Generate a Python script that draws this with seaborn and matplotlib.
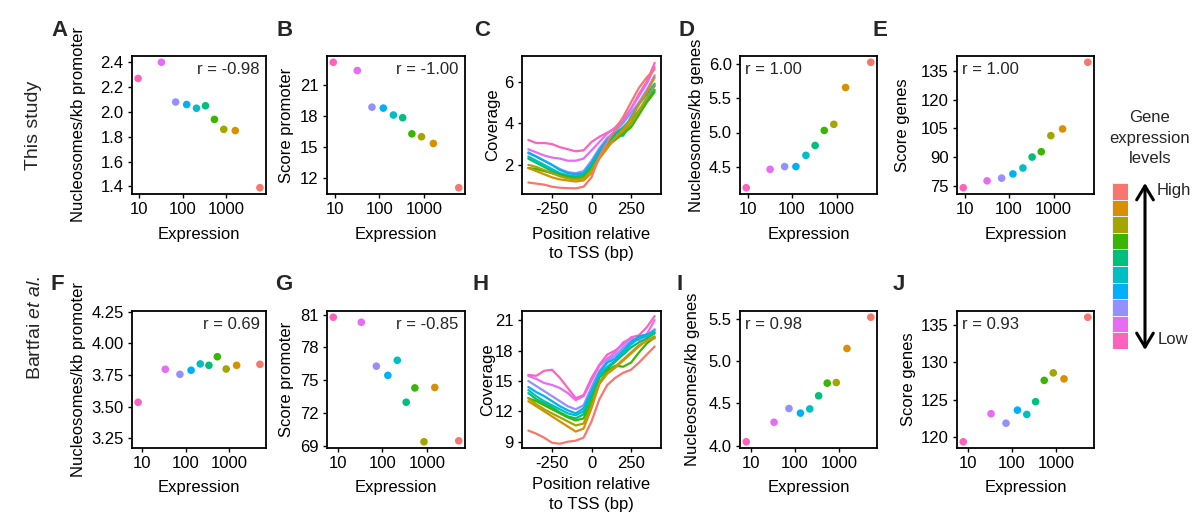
import numpy as np
import pandas as pd
import matplotlib.pyplot as plt
from matplotlib.colors import ListedColormap
import seaborn as sns

sns.set_style('white')
plt.rcParams['font.family'] = ['Liberation Sans', 'DejaVu Sans']
plt.rcParams['axes.unicode_minus'] = False
plt.rcParams['mathtext.fontset'] = 'custom'
plt.rcParams['mathtext.rm'] = 'Liberation Sans'
plt.rcParams['mathtext.it'] = 'Liberation Sans:italic'

# expression bins, low -> high
levels = ['L1', 'L2', 'L3', 'L4', 'L5', 'L6', 'L7', 'L8', 'L9', 'L10']
colors = ['#FF62BC', '#E76BF3', '#9590FF', '#00B0F6', '#00BFC4',
          '#00BF7D', '#39B600', '#A3A500', '#D89000', '#F8766D']

expr_this = [9.3, 32, 68, 122, 205, 330, 530, 870, 1600, 5900]
expr_bartfai = [8.0, 34, 74, 134, 218, 345, 540, 865, 1510, 5200]

nuc_prom_this = [2.27, 2.40, 2.08, 2.06, 2.03, 2.05, 1.94, 1.86, 1.85, 1.39]
score_prom_this = [23.2, 22.4, 18.86, 18.77, 18.1, 17.84, 16.28, 16.0, 15.35, 11.07]
nuc_genes_this = [4.19, 4.46, 4.5, 4.5, 4.665, 4.81, 5.03, 5.12, 5.66, 6.03]
score_genes_this = [74.0, 77.6, 79.0, 81.2, 84.3, 90.0, 92.8, 101.2, 104.7, 139.5]

nuc_prom_bartfai = [3.534, 3.795, 3.755, 3.787, 3.837, 3.826, 3.894, 3.797, 3.826, 3.834]
score_prom_bartfai = [80.76, 80.3, 76.28, 75.44, 76.82, 72.98, 74.29, 69.36, 74.33, 69.45]
nuc_genes_bartfai = [4.046, 4.277, 4.44, 4.385, 4.435, 4.59, 4.74, 4.747, 5.15, 5.52]
score_genes_bartfai = [119.43, 123.16, 121.9, 123.64, 123.07, 124.76, 127.6, 128.6, 127.8, 136.0]

positions = [-400, -350, -300, -250, -200, -150, -100, -50, 0, 50, 100, 150, 200, 250, 300, 350, 400]

cov_this = [
    [3.2, 3.05, 3.05, 3.0, 2.85, 2.75, 2.65, 2.7, 3.1, 3.35, 3.55, 3.75, 4.1, 4.7, 5.4, 6.0, 6.9],
    [2.75, 2.6, 2.45, 2.35, 2.3, 2.2, 2.2, 2.3, 2.7, 3.1, 3.5, 3.8, 4.2, 4.7, 5.3, 5.9, 6.7],
    [2.55, 2.4, 2.2, 2.0, 1.8, 1.65, 1.6, 1.7, 2.2, 2.8, 3.3, 3.6, 4.0, 4.5, 5.0, 5.6, 6.3],
    [2.6, 2.4, 2.2, 2.0, 1.75, 1.6, 1.55, 1.6, 2.1, 2.7, 3.2, 3.5, 3.6, 4.3, 4.9, 5.4, 5.9],
    [2.4, 2.2, 2.0, 1.8, 1.6, 1.5, 1.45, 1.55, 1.95, 2.6, 3.1, 3.4, 3.4, 4.0, 4.6, 5.2, 5.8],
    [2.3, 2.1, 1.9, 1.7, 1.55, 1.45, 1.4, 1.5, 1.9, 2.5, 3.0, 3.5, 3.8, 4.2, 4.6, 5.1, 5.6],
    [1.85, 1.8, 1.7, 1.6, 1.5, 1.4, 1.35, 1.4, 1.8, 2.4, 2.9, 3.2, 3.5, 3.8, 4.4, 5.0, 5.5],
    [2.0, 1.9, 1.75, 1.6, 1.45, 1.35, 1.3, 1.35, 1.75, 2.4, 2.9, 3.3, 3.6, 4.0, 4.6, 5.2, 5.8],
    [1.85, 1.7, 1.55, 1.4, 1.3, 1.25, 1.2, 1.25, 1.6, 2.3, 2.8, 3.3, 3.7, 4.2, 4.9, 5.5, 6.2],
    [1.15, 1.1, 1.05, 0.95, 0.9, 0.88, 0.87, 0.95, 1.4, 2.4, 3.1, 3.7, 4.3, 5.0, 5.7, 6.2, 6.6],
]

cov_bartfai = [
    [15.6, 15.5, 16.0, 16.1, 15.3, 14.3, 13.3, 13.6, 15.3, 16.6, 17.6, 18.0, 18.6, 19.3, 19.5, 20.3, 21.4],
    [15.5, 15.2, 14.8, 14.6, 14.3, 13.8, 13.1, 13.5, 15.0, 16.5, 17.2, 17.8, 18.8, 19.2, 19.0, 19.6, 21.0],
    [15.0, 14.5, 14.0, 13.5, 13.0, 12.5, 12.2, 12.6, 14.4, 16.0, 17.0, 17.5, 18.3, 19.0, 19.3, 19.5, 20.1],
    [14.4, 13.9, 13.5, 13.0, 12.5, 12.1, 11.8, 12.3, 14.0, 15.8, 16.8, 17.2, 18.0, 18.8, 19.4, 19.6, 19.8],
    [14.1, 13.5, 13.0, 12.6, 12.2, 11.8, 11.6, 12.0, 13.7, 15.6, 16.4, 17.0, 17.8, 18.6, 19.2, 19.4, 20.0],
    [13.8, 13.2, 12.8, 12.4, 11.9, 11.5, 11.3, 11.7, 13.4, 15.3, 16.2, 16.9, 17.6, 18.3, 18.8, 19.2, 19.7],
    [13.3, 13.0, 12.6, 12.2, 11.8, 11.4, 11.1, 11.3, 12.9, 14.8, 16.0, 16.5, 16.4, 16.8, 17.8, 18.7, 19.3],
    [13.3, 12.7, 12.2, 11.8, 11.4, 11.0, 10.6, 10.8, 12.6, 14.8, 15.8, 16.4, 17.1, 17.8, 18.5, 19.0, 19.4],
    [13.0, 12.5, 12.0, 11.5, 11.0, 10.5, 10.0, 10.3, 12.3, 14.7, 15.7, 16.3, 17.0, 17.7, 18.4, 19.0, 19.2],
    [10.1, 9.8, 9.4, 8.9, 8.8, 9.0, 9.1, 9.4, 11.0, 13.2, 14.6, 15.3, 15.8, 16.1, 16.8, 17.6, 18.4],
]

palette = dict(zip(levels, colors))
W, H = 1200, 521
fig = plt.figure(figsize=(12, 5.21), dpi=100)

col_left = [132, 327, 522, 740, 957]
col_width = [134, 138, 139, 137, 137]
row_top = [56, 311]
row_height = [138, 137]


def make_ax(row, col):
    l, w = col_left[col], col_width[col]
    t, h = row_top[row], row_height[row]
    return fig.add_axes([l / W, 1 - (t + h) / H, w / W, h / H])


def style(ax, ylabel, xlabel, ylab_x, xlab_y):
    for sp in ax.spines.values():
        sp.set_color('black')
        sp.set_linewidth(1.3)
    ax.tick_params(axis='both', which='major', labelsize=12, length=3, width=1,
                   color='black', labelcolor='black', pad=3, left=True, bottom=True)
    ax.set_ylabel(ylabel, fontsize=12, color='black')
    ax.set_xlabel(xlabel, fontsize=12, color='black', linespacing=1.35)
    ax.yaxis.set_label_coords(ylab_x, 0.5)
    ax.yaxis.label.set_va('center')
    ax.xaxis.set_label_coords(0.5, xlab_y)
    ax.xaxis.label.set_va('center')


def scatter_panel(row, col, x, y, ylabel, yticks, r_text, r_left, ylab_px, ylim=None):
    ax = make_ax(row, col)
    ax.set_xscale('log')
    df = pd.DataFrame({'expr': x, 'val': y, 'level': levels})
    sns.scatterplot(data=df, x='expr', y='val', hue='level', palette=palette,
                    s=30, linewidth=0, legend=False, ax=ax)
    ax.minorticks_off()
    ax.set_xticks([10, 100, 1000])
    ax.set_xticklabels(['10', '100', '1000'])
    ax.set_yticks(yticks)
    if ylim is not None:
        ax.set_ylim(ylim)
    xlab_y = -0.29 if row == 0 else -0.285
    style(ax, ylabel, 'Expression', (ylab_px - col_left[col]) / col_width[col], xlab_y)
    if r_left:
        ax.text(0.04, 0.9, r_text, transform=ax.transAxes, ha='left', va='center', fontsize=12)
    else:
        ax.text(0.955, 0.9, r_text, transform=ax.transAxes, ha='right', va='center', fontsize=12)
    return ax


def line_panel(row, col, cov, yticks, ylim, ylab_px):
    ax = make_ax(row, col)
    rows = []
    for lev, vals in zip(levels, cov):
        for p, v in zip(positions, vals):
            rows.append((p, v, lev))
    df = pd.DataFrame(rows, columns=['pos', 'cov', 'level'])
    sns.lineplot(data=df, x='pos', y='cov', hue='level', palette=palette,
                 estimator=None, linewidth=1.6, legend=False, ax=ax)
    ax.set_xlim(-440, 440)
    ax.set_ylim(ylim)
    ax.set_xticks([-250, 0, 250])
    ax.set_yticks(yticks)
    style(ax, 'Coverage', 'Position relative\nto TSS (bp)',
          (ylab_px - col_left[col]) / col_width[col], -0.36 if row == 0 else -0.34)
    return ax


# row 1: this study
scatter_panel(0, 0, expr_this, nuc_prom_this, 'Nucleosomes/kb promoter',
              [1.4, 1.6, 1.8, 2.0, 2.2, 2.4], 'r = -0.98', False, 79)
scatter_panel(0, 1, expr_this, score_prom_this, 'Score promoter',
              [12, 15, 18, 21], 'r = -1.00', False, 287)
line_panel(0, 2, cov_this, [2, 4, 6], (0.6, 7.23), 493)
scatter_panel(0, 3, expr_this, nuc_genes_this, 'Nucleosomes/kb genes',
              [4.5, 5.0, 5.5, 6.0], 'r = 1.00', True, 697)
scatter_panel(0, 4, expr_this, score_genes_this, 'Score genes',
              [75, 90, 105, 120, 135], 'r = 1.00', True, 903)

# row 2: Bartfai et al.
scatter_panel(1, 0, expr_bartfai, nuc_prom_bartfai, 'Nucleosomes/kb promoter',
              [3.25, 3.50, 3.75, 4.00, 4.25], 'r = 0.69', False, 79, ylim=(3.173, 4.255))
scatter_panel(1, 1, expr_bartfai, score_prom_bartfai, 'Score promoter',
              [69, 72, 75, 78, 81], 'r = -0.85', False, 287)
line_panel(1, 2, cov_bartfai, [9, 12, 15, 18, 21], (8.38, 21.9), 488)
scatter_panel(1, 3, expr_bartfai, nuc_genes_bartfai, 'Nucleosomes/kb genes',
              [4.0, 4.5, 5.0, 5.5], 'r = 0.98', True, 693)
scatter_panel(1, 4, expr_bartfai, score_genes_bartfai, 'Score genes',
              [120, 125, 130, 135], 'r = 0.93', True, 909)

# overlay in pixel coordinates for letters, row labels and legend annotations
ov = fig.add_axes([0, 0, 1, 1])
ov.set_xlim(0, W)
ov.set_ylim(H, 0)
ov.axis('off')
ov.patch.set_alpha(0)

letters = ['A', 'B', 'C', 'D', 'E', 'F', 'G', 'H', 'I', 'J']
letter_x = [60, 285, 482, 686, 880, 57, 284, 481, 680, 899]
letter_y = [31, 31, 31, 31, 31, 285, 285, 285, 285, 285]
for t, lx, ly in zip(letters, letter_x, letter_y):
    ov.text(lx, ly, t, fontsize=16, fontweight='bold', ha='center', va='center')

ov.text(34, 125, 'This study', rotation=90, fontsize=14, ha='center', va='center')
ov.text(35, 328, r'Bartfai $\mathit{et\ al.}$', rotation=90, fontsize=14, ha='center', va='center')

ov.text(1150, 138, 'Gene\nexpression\nlevels', fontsize=12, ha='center', va='center',
        linespacing=1.45)
ov.text(1157, 190, 'High', fontsize=12, ha='left', va='center')
ov.text(1158, 340, 'Low', fontsize=12, ha='left', va='center')
ov.annotate('', xy=(1145, 183), xytext=(1145, 350),
            arrowprops=dict(arrowstyle='<->,head_length=0.5,head_width=0.3',
                            mutation_scale=20, lw=2.2, color='black',
                            shrinkA=0, shrinkB=0))

# colour key
leg = fig.add_axes([1112 / W, 1 - 349 / H, 16 / W, 166 / H])
key = np.arange(len(levels))[::-1].reshape(-1, 1)
sns.heatmap(key, cmap=ListedColormap(colors), cbar=False, linewidths=0.6,
            linecolor='#f0f0f0', xticklabels=False, yticklabels=False, ax=leg)

fig.savefig('out.png', dpi=100)
